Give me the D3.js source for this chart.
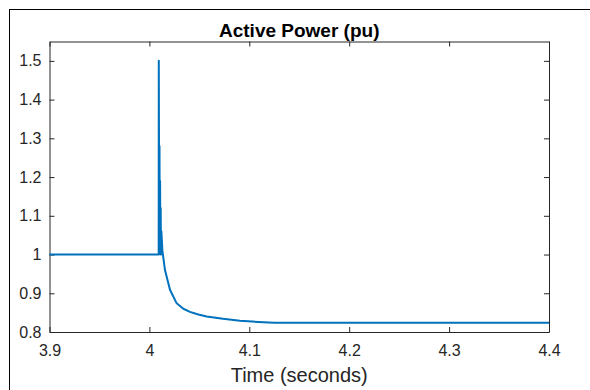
<!DOCTYPE html>
<html>
<head>
<meta charset="utf-8">
<script src="https://cdn.jsdelivr.net/npm/d3@7"></script>
<style>
  body { margin: 0; background: #fff; }
  svg { display: block; font-family: "Liberation Sans", Arial, sans-serif; }
</style>
</head>
<body>
<svg id="chart"></svg>
<script>
const width = 590;
const height = 390;

// time (s) and active power (pu)
const times = [3.9, 4.0093, 4.0094, 4.0098, 4.0101, 4.0104, 4.0107, 4.0110, 4.0113, 4.0116, 4.0120,
  4.0130, 4.0156, 4.0206, 4.0273, 4.0340, 4.0406, 4.0490, 4.0574, 4.0737, 4.0907, 4.1087, 4.125, 4.4];
const power = [1.0, 1.0, 1.5, 1.08, 1.28, 1.02, 1.19, 1.0, 1.12, 1.0, 1.06,
  1.01, 0.96, 0.909, 0.874, 0.86, 0.852, 0.845, 0.840, 0.834, 0.829, 0.826, 0.824, 0.824];

const xTicks = [3.9, 4, 4.1, 4.2, 4.3, 4.4];
const yTicks = [0.8, 0.9, 1, 1.1, 1.2, 1.3, 1.4, 1.5];

const margin = {top: 41.5, right: 41, bottom: 58, left: 49.5};

const svg = d3.select("#chart")
  .attr("width", width)
  .attr("height", height);

// outer figure frame (only left and top edges show)
svg.append("rect")
  .attr("x", 9.5).attr("y", 9.5)
  .attr("width", 700).attr("height", 500)
  .attr("fill", "none")
  .attr("stroke", "#000")
  .attr("stroke-width", 1);

const x = d3.scaleLinear([3.9, 4.4], [margin.left, width - margin.right]);
const y = d3.scaleLinear([0.8, 1.55], [height - margin.bottom, margin.top]);

const fmt = d => String(d);

// bottom axis
svg.append("g")
  .attr("transform", `translate(0,${y(0.8)})`)
  .call(d3.axisBottom(x).tickValues(xTicks).tickFormat(fmt).tickSizeInner(-5).tickSizeOuter(0).tickPadding(13))
  .call(g => g.selectAll("text").attr("font-size", 16).attr("fill", "#262626"));

// top axis (ticks only)
svg.append("g")
  .attr("transform", `translate(0,${y(1.55)})`)
  .call(d3.axisTop(x).tickValues(xTicks).tickFormat("").tickSizeInner(-5).tickSizeOuter(0));

// left axis
svg.append("g")
  .attr("transform", `translate(${x(3.9)},0)`)
  .call(d3.axisLeft(y).tickValues(yTicks).tickFormat(fmt).tickSizeInner(-5).tickSizeOuter(0).tickPadding(8))
  .call(g => g.selectAll("text").attr("font-size", 16).attr("fill", "#262626"));

// right axis (ticks only)
svg.append("g")
  .attr("transform", `translate(${x(4.4)},0)`)
  .call(d3.axisRight(y).tickValues(yTicks).tickFormat("").tickSizeInner(-5).tickSizeOuter(0));

svg.selectAll(".domain, .tick line").attr("stroke", "#262626");

// data line
const data = times.map((t, i) => ({t, p: power[i]}));
svg.append("path")
  .datum(data)
  .attr("fill", "none")
  .attr("stroke", "#0072BD")
  .attr("stroke-width", 2)
  .attr("stroke-linejoin", "round")
  .attr("d", d3.line().x(d => x(d.t)).y(d => y(d.p)));

// title and label
svg.append("text")
  .attr("x", (x(3.9) + x(4.4)) / 2)
  .attr("y", 36.5)
  .attr("text-anchor", "middle")
  .attr("font-size", 19)
  .attr("font-weight", "bold")
  .attr("fill", "#000")
  .text("Active Power (pu)");

svg.append("text")
  .attr("x", (x(3.9) + x(4.4)) / 2)
  .attr("y", 382)
  .attr("text-anchor", "middle")
  .attr("font-size", 20)
  .attr("fill", "#262626")
  .text("Time (seconds)");
</script>
</body>
</html>
